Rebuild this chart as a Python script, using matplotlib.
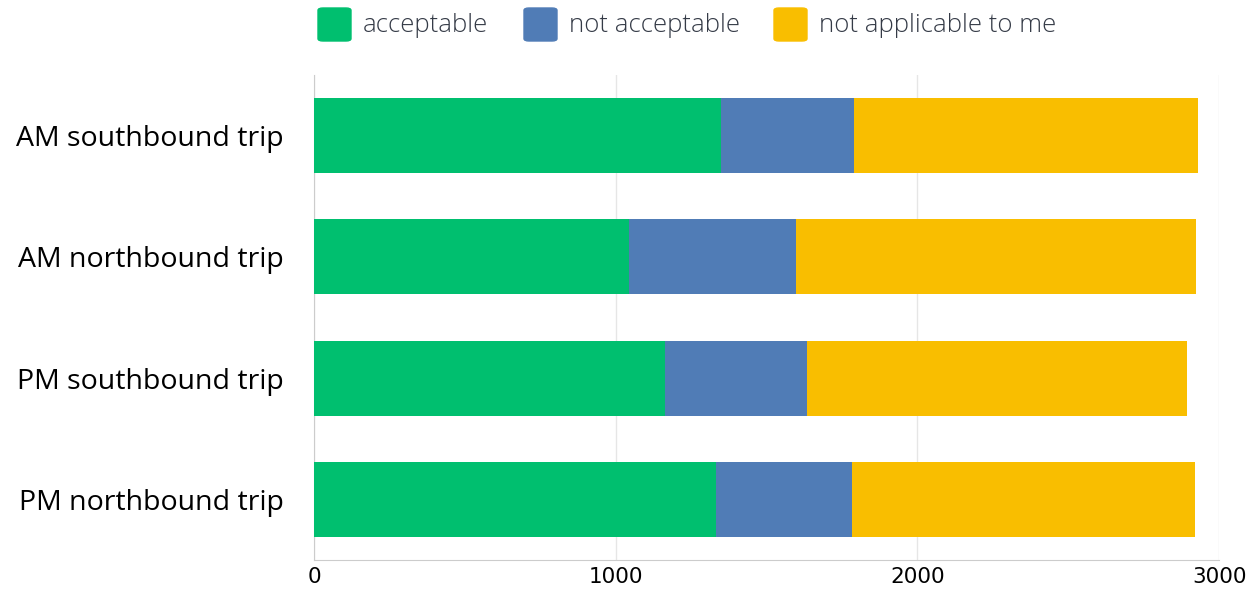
import matplotlib.pyplot as plt
from matplotlib.patches import FancyBboxPatch

# Дані діаграми
trips = ["AM southbound trip", "AM northbound trip", "PM southbound trip", "PM northbound trip"]
acceptable = [1349, 1044, 1163, 1332]
not_acceptable = [441, 554, 471, 451]
not_applicable = [1140, 1325, 1260, 1137]
series_names = ["acceptable", "not acceptable", "not applicable to me"]
colors = ["#00BF6F", "#507CB6", "#F9BE00"]

fig = plt.figure(figsize=(12.49, 5.9), dpi=100)
ax = fig.add_axes([0.2514, 0.0508, 0.7247, 0.8222])

y = range(len(trips))
left = [0] * len(trips)
for vals, col in zip([acceptable, not_acceptable, not_applicable], colors):
    ax.barh(y, vals, left=left, color=col, height=0.62, zorder=3)
    left = [l + v for l, v in zip(left, vals)]

ax.set_ylim(3.5, -0.5)
ax.set_xlim(0, 3000)
ax.set_xticks([0, 1000, 2000, 3000])
ax.set_xticklabels(["0", "1000", "2000", "3000"], fontsize=15.5, family="Liberation Sans Narrow")
ax.set_yticks(list(y))
ax.set_yticklabels(trips, fontsize=20.5, family="Open Sans")
ax.tick_params(axis="x", length=0, pad=5)
ax.tick_params(axis="y", length=0, pad=22)
ax.grid(axis="x", color="#e6e6e6", linewidth=1, zorder=0)
for s in ["top", "right"]:
    ax.spines[s].set_visible(False)
for s in ["left", "bottom"]:
    ax.spines[s].set_color("#cccccc")

# Легенда зверху
legend_x = [318, 524, 774]
for name, col, lx in zip(series_names, colors, legend_x):
    fig.patches.append(FancyBboxPatch((lx / 1249, 1 - 41 / 590), 33 / 1249, 33 / 590,
                                      boxstyle="round,pad=0,rounding_size=0.004",
                                      transform=fig.transFigure, color=col, figure=fig))
    fig.text((lx + 45) / 1249, 1 - 25 / 590, name, fontsize=18.5, color="#353b47",
             va="center", ha="left", family="Open Sans", fontweight="light")

plt.savefig("out.png", dpi=100)
